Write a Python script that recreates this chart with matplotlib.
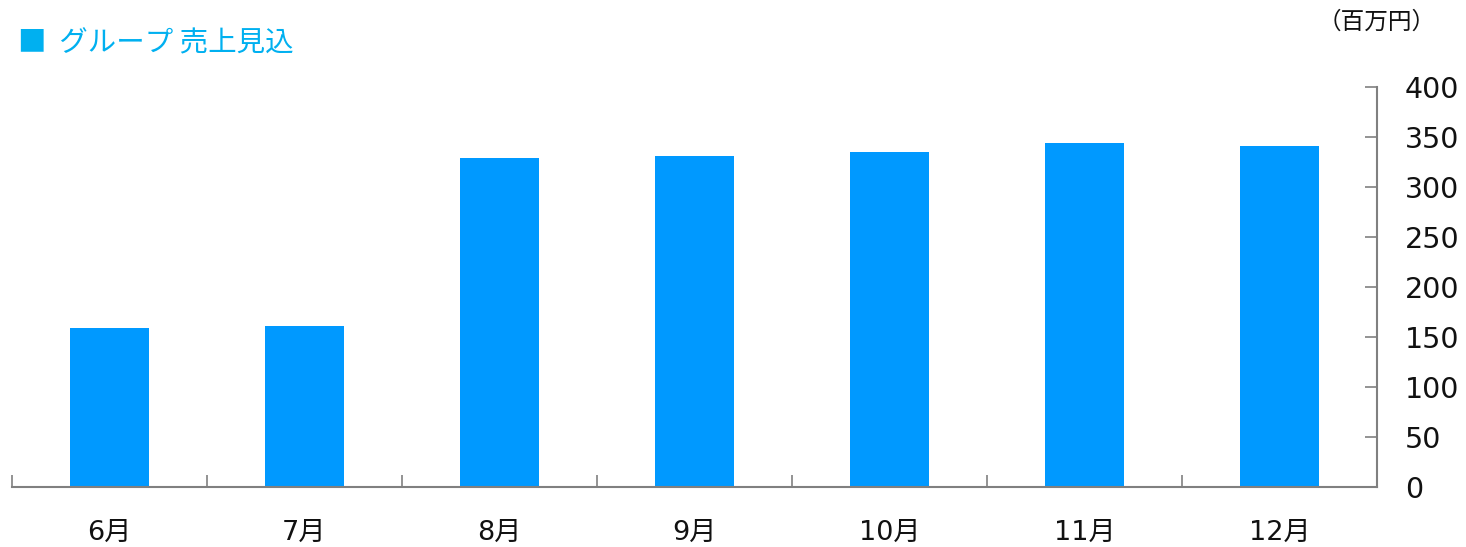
import matplotlib
matplotlib.use("Agg")
import matplotlib.pyplot as plt
import numpy as np

plt.rcParams['font.family'] = ['Noto Sans CJK JP', 'DejaVu Sans']
num_font = ['DejaVu Sans', 'Noto Sans CJK JP']

months = ['6月', '7月', '8月', '9月', '10月', '11月', '12月']
sales = [159, 161, 329, 331, 335, 344, 341]
yticks = [0, 50, 100, 150, 200, 250, 300, 350, 400]

fig = plt.figure(figsize=(14.66, 5.47), dpi=100)
ax = fig.add_axes([12/1466, 60/547, 1365/1466, 400/547])

x = np.arange(len(months))
ax.bar(x, sales, width=0.41, color='#0099FF', zorder=2)

ax.set_xlim(-0.5, len(months) - 0.5)
ax.set_ylim(0, 400)

# y axis on the right
ax.yaxis.tick_right()
ax.set_yticks(yticks)
ax.set_yticklabels([str(v) for v in yticks], family=num_font)
ax.tick_params(axis='y', direction='in', length=9, width=1.2, color='#808080',
               labelsize=20.5, pad=20, labelcolor='#111111')

# x labels centred under bars, ticks at the category boundaries
ax.set_xticks(x)
ax.set_xticklabels(months, family=num_font)
ax.tick_params(axis='x', which='major', length=0, labelsize=19.5, pad=24, labelcolor='#111111')
ax.set_xticks(np.arange(-0.5, len(months)), minor=True)
ax.tick_params(axis='x', which='minor', direction='in', length=9, width=1.2, color='#808080')

for s in ['top', 'left']:
    ax.spines[s].set_visible(False)
for s in ['bottom', 'right']:
    ax.spines[s].set_color('#808080')
    ax.spines[s].set_linewidth(1.5)

fig.text(18/1466, 1 - 43/547, '■  グループ 売上見込', color='#00B0F0', fontsize=20.5,
         ha='left', va='center')
fig.text(1377/1466, 1 - 22/547, '（百万円）', color='#111111', fontsize=17,
         ha='center', va='center')

fig.savefig('out.png', dpi=100)
